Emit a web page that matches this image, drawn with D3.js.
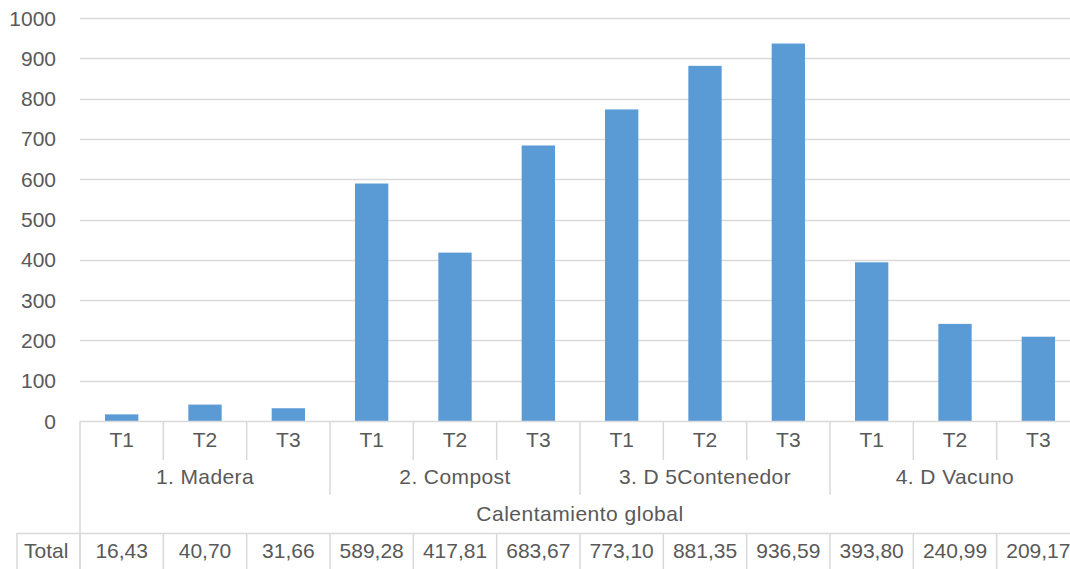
<!DOCTYPE html>
<html>
<head>
<meta charset="utf-8">
<script src="https://cdn.jsdelivr.net/npm/d3@7"></script>
<style>
  html, body { margin: 0; padding: 0; background: #fff; overflow: hidden; }
  svg { display: block; font-family: "Liberation Sans", Arial, sans-serif; }
  text { fill: #595959; }
</style>
</head>
<body>
<svg id="chart" width="1070" height="569"></svg>
<script>
// Tratamientos por grupo
const groups = ["1. Madera", "2. Compost", "3. D 5Contenedor", "4. D Vacuno"];
const treatments = ["T1", "T2", "T3"];
const values = [16.43, 40.70, 31.66, 589.28, 417.81, 683.67, 773.10, 881.35, 936.59, 393.80, 240.99, 209.17];
const yTicks = [0, 100, 200, 300, 400, 500, 600, 700, 800, 900, 1000];
const axisTitle = "Calentamiento global";
const rowLabel = "Total";

const rows = values.map((v, i) => ({
  id: i,
  group: groups[Math.floor(i / treatments.length)],
  treatment: treatments[i % treatments.length],
  value: v
}));

const svg = d3.select("#chart");
const W = 1070, H = 569;
const plotLeft = 80, plotRight = 1080, plotTop = 18, plotBase = 421;
const lineColor = "#d9d9d9";
const barColor = "#5b9bd5";
const fs = 21;

const y = d3.scaleLinear().domain([0, 1000]).range([plotBase, plotTop]);
const x = d3.scaleBand().domain(rows.map(d => d.id)).range([plotLeft, plotRight]).padding(0);
const step = x.step();
const barW = step / 2.5;

// gridlines
svg.append("g").selectAll("line").data(yTicks.filter(t => t > 0)).join("line")
  .attr("x1", plotLeft).attr("x2", W)
  .attr("y1", d => Math.round(y(d)) + 0.5).attr("y2", d => Math.round(y(d)) + 0.5)
  .attr("stroke", lineColor).attr("stroke-width", 1.5);

// y axis labels
svg.append("g").selectAll("text").data(yTicks).join("text")
  .attr("x", 56).attr("y", d => y(d))
  .attr("text-anchor", "end").attr("dominant-baseline", "central")
  .attr("font-size", fs)
  .text(d => d);

// bars
svg.append("g").selectAll("rect").data(rows).join("rect")
  .attr("x", d => x(d.id) + (step - barW) / 2)
  .attr("width", barW)
  .attr("y", d => y(d.value))
  .attr("height", d => y(0) - y(d.value))
  .attr("fill", barColor);

// category axis baseline
svg.append("line")
  .attr("x1", plotLeft).attr("x2", W).attr("y1", plotBase + 0.5).attr("y2", plotBase + 0.5)
  .attr("stroke", lineColor).attr("stroke-width", 1.5);

// separators below the axis
const bounds = d3.range(rows.length + 1).map(i => plotLeft + i * step);
const sep = svg.append("g").attr("stroke", lineColor).attr("stroke-width", 1.5);
bounds.forEach((bx, i) => {
  let yEnd;
  if (i === 0) yEnd = H;
  else if (i % treatments.length === 0) yEnd = 495;
  else yEnd = 460;
  sep.append("line").attr("x1", bx).attr("x2", bx).attr("y1", plotBase).attr("y2", yEnd);
});

// treatment labels
svg.append("g").selectAll("text").data(rows).join("text")
  .attr("x", d => x(d.id) + step / 2).attr("y", 439)
  .attr("text-anchor", "middle").attr("dominant-baseline", "central")
  .attr("font-size", fs)
  .text(d => d.treatment);

// group labels
svg.append("g").selectAll("text").data(groups).join("text")
  .attr("x", (d, i) => plotLeft + (i * treatments.length + treatments.length / 2) * step)
  .attr("y", 476)
  .attr("text-anchor", "middle").attr("dominant-baseline", "central")
  .attr("font-size", fs)
  .attr("letter-spacing", 0.4)
  .text(d => d);

// overall category title
svg.append("text")
  .attr("x", (plotLeft + plotRight) / 2).attr("y", 513)
  .attr("text-anchor", "middle").attr("dominant-baseline", "central")
  .attr("font-size", fs)
  .attr("letter-spacing", 0.5)
  .text(axisTitle);

// data table
const tableTop = 533;
const tbl = svg.append("g").attr("stroke", lineColor).attr("stroke-width", 1.5);
tbl.append("line").attr("x1", 17).attr("x2", W).attr("y1", tableTop + 0.5).attr("y2", tableTop + 0.5);
tbl.append("line").attr("x1", 17).attr("x2", 17).attr("y1", tableTop).attr("y2", H);
bounds.forEach(bx => {
  tbl.append("line").attr("x1", bx).attr("x2", bx).attr("y1", tableTop).attr("y2", H);
});

svg.append("text")
  .attr("x", 24).attr("y", 550)
  .attr("dominant-baseline", "central")
  .attr("font-size", fs)
  .text(rowLabel);

const fmt = v => v.toFixed(2).replace(".", ",");
svg.append("g").selectAll("text").data(rows).join("text")
  .attr("x", d => x(d.id) + step / 2).attr("y", 550)
  .attr("text-anchor", "middle").attr("dominant-baseline", "central")
  .attr("font-size", fs)
  .text(d => fmt(d.value));
</script>
</body>
</html>
